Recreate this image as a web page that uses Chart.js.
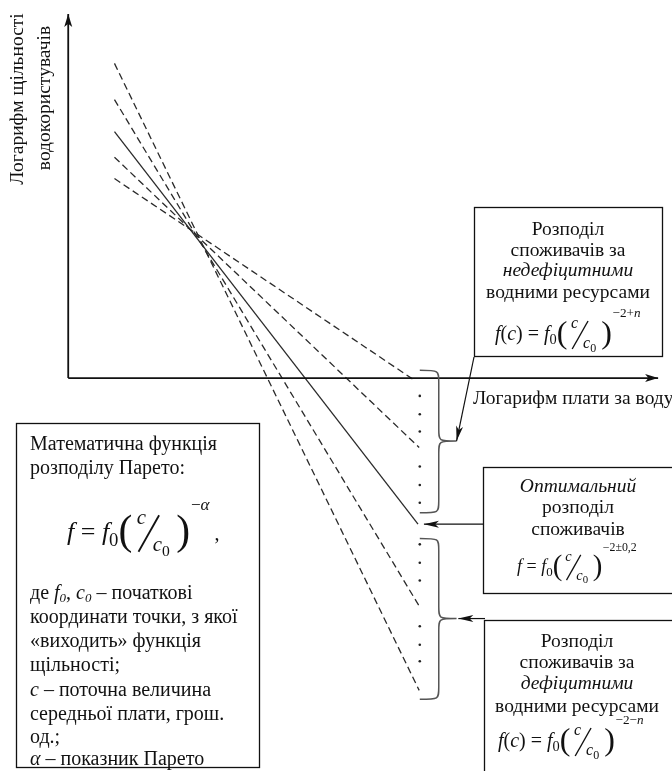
<!DOCTYPE html>
<html>
<head>
<meta charset="utf-8">
<script src="https://cdn.jsdelivr.net/npm/chart.js@4.4.1/dist/chart.umd.min.js"></script>
<style>
	body { margin: 0; background: #fff; }
	canvas { display: block; }
</style>
</head>
<body>
<canvas id="paretoChart" width="672" height="771"></canvas>
<script>
// log of price (x) and log of density (y), chart units, 0 = where the axes meet
const lineNames = ['недефіцитні 1', 'недефіцитні 2', 'оптимальний', 'дефіцитні 1', 'дефіцитні 2'];
const lineStartX = [0.78, 0.78, 0.78, 0.78, 0.78];
const lineStartY = [3.36, 3.72, 4.15, 4.69, 5.30];
const lineEndX = [5.86, 5.92, 5.90, 5.92, 5.92];
const lineEndY = [-0.05, -1.17, -2.46, -3.84, -5.26];
const optimalLine = 2;

const dotX = 5.93;
const dotY = [-0.30, -0.61, -0.90, -1.49, -1.80, -2.10, -2.80, -3.11, -3.41, -4.18, -4.49, -4.77];

const xAxisTitle = 'Логарифм плати за воду';
const yAxisTitle = ['Логарифм щільності', 'водокористувачів'];

// braces grouping the line ends: top, middle (tip) and bottom, chart units
const braces = [
	{ top: 0.13, mid: -1.06, bottom: -2.27 },
	{ top: -2.70, mid: -4.05, bottom: -5.41 }
];

const FONT = '"Liberation Serif", "Times New Roman", serif';
const INK = '#111';

function setFont(ctx, size, italic) {
	ctx.font = (italic ? 'italic ' : '') + size + 'px ' + FONT;
}

// runs: [{t, i}] drawn one after another
function runsWidth(ctx, runs, size) {
	let w = 0;
	runs.forEach(r => {
		setFont(ctx, r.s || size, r.i);
		w += ctx.measureText(r.t).width;
	});
	return w;
}
function drawRuns(ctx, runs, x, y, size, align) {
	if (align === 'center') x -= runsWidth(ctx, runs, size) / 2;
	ctx.textAlign = 'left';
	ctx.textBaseline = 'alphabetic';
	runs.forEach(r => {
		setFont(ctx, r.s || size, r.i);
		ctx.fillText(r.t, x, y + (r.dy || 0));
		x += ctx.measureText(r.t).width;
	});
	return x;
}

// f0 (c / c0) ^ expo, with lhs runs before it
function drawPareto(ctx, lhs, expo, x, base, s) {
	x = drawRuns(ctx, lhs, x, base, s);
	setFont(ctx, s * 0.72, false);
	ctx.fillText('0', x, base + s * 0.22);
	x += ctx.measureText('0').width;
	const P = s * 1.6, w = s * 1.65;
	setFont(ctx, P, false);
	ctx.fillText('(', x, base + s * 0.16);
	x += ctx.measureText('(').width + s * 0.04;
	setFont(ctx, s * 0.8, true);
	ctx.fillText('c', x + w * 0.08, base - s * 0.6);
	ctx.beginPath();
	ctx.moveTo(x + w * 0.12, base + s * 0.45);
	ctx.lineTo(x + w * 0.6, base - s * 0.95);
	ctx.lineWidth = Math.max(1.2, s * 0.07);
	ctx.stroke();
	ctx.fillText('c', x + w * 0.45, base + s * 0.42);
	setFont(ctx, s * 0.6, false);
	ctx.fillText('0', x + w * 0.45 + s * 0.36, base + s * 0.6);
	x += w;
	setFont(ctx, P, false);
	ctx.fillText(')', x, base + s * 0.16);
	x += ctx.measureText(')').width + s * 0.03;
	return drawRuns(ctx, expo, x, base - s * 1.15, s * 0.66);
}

function arrowHead(ctx, x1, y1, x2, y2, len, half) {
	const a = Math.atan2(y2 - y1, x2 - x1);
	ctx.beginPath();
	ctx.moveTo(x2, y2);
	ctx.lineTo(x2 - len * Math.cos(a) + half * Math.sin(a), y2 - len * Math.sin(a) - half * Math.cos(a));
	ctx.lineTo(x2 - len * 0.75 * Math.cos(a), y2 - len * 0.75 * Math.sin(a));
	ctx.lineTo(x2 - len * Math.cos(a) - half * Math.sin(a), y2 - len * Math.sin(a) + half * Math.cos(a));
	ctx.closePath();
	ctx.fill();
}
function arrow(ctx, x1, y1, x2, y2, width, len, half) {
	ctx.beginPath();
	ctx.moveTo(x1, y1);
	ctx.lineTo(x2, y2);
	ctx.lineWidth = width;
	ctx.stroke();
	arrowHead(ctx, x1, y1, x2, y2, len, half);
}

function box(ctx, x, y, w, h) {
	ctx.fillStyle = '#fff';
	ctx.fillRect(x, y, w, h);
	ctx.strokeStyle = INK;
	ctx.lineWidth = 1.3;
	ctx.strokeRect(x + 0.5, y + 0.5, w, h);
	ctx.fillStyle = INK;
}

const diagramPlugin = {
	id: 'diagram',
	afterDatasetsDraw(chart) {
		const ctx = chart.ctx;
		const px = v => chart.scales.x.getPixelForValue(v);
		const py = v => chart.scales.y.getPixelForValue(v);
		ctx.save();
		ctx.strokeStyle = INK;
		ctx.fillStyle = INK;

		// axes with arrows
		const ox = px(0), oy = py(0);
		arrow(ctx, ox, oy, ox, py(6.13), 1.8, 13, 4);
		arrow(ctx, ox, oy, px(9.95), oy, 1.8, 13, 4);

		// axis titles
		setFont(ctx, 19.5, false);
		ctx.textAlign = 'left';
		ctx.fillText(xAxisTitle, 473, 404);
		ctx.save();
		ctx.rotate(-Math.PI / 2);
		ctx.textAlign = 'center';
		ctx.textBaseline = 'middle';
		ctx.fillText(yAxisTitle[0], -99, 18);
		ctx.fillText(yAxisTitle[1], -98, 45);
		ctx.restore();

		// braces
		ctx.strokeStyle = '#555';
		ctx.lineWidth = 1.5;
		braces.forEach(b => {
			const x0 = px(5.93), xs = px(6.25), xt = px(6.55);
			const t = py(b.top), m = py(b.mid), bt = py(b.bottom);
			ctx.beginPath();
			ctx.moveTo(x0, t);
			ctx.bezierCurveTo(xs, t, xs, t, xs, t + 12);
			ctx.lineTo(xs, m - 12);
			ctx.bezierCurveTo(xs, m, xs, m, xt, m);
			ctx.bezierCurveTo(xs, m, xs, m, xs, m + 12);
			ctx.lineTo(xs, bt - 12);
			ctx.bezierCurveTo(xs, bt, xs, bt, x0, bt);
			ctx.stroke();
		});

		// pointer arrows from the boxes
		ctx.strokeStyle = INK;
		ctx.fillStyle = INK;
		arrow(ctx, 474, 357, px(6.55), py(braces[0].mid), 1.2, 15, 3.5);
		arrow(ctx, 483, py(lineEndY[optimalLine]), px(6.0), py(lineEndY[optimalLine]), 1.2, 15, 3.5);
		arrow(ctx, 485, py(braces[1].mid), px(6.58), py(braces[1].mid), 1.2, 15, 3.5);

		const rs = 19.5;
		// top right box
		box(ctx, 474, 207, 188, 149);
		let cx = 568;
		drawRuns(ctx, [{ t: 'Розподіл' }], cx, 235, rs, 'center');
		drawRuns(ctx, [{ t: 'споживачів за' }], cx, 256, rs, 'center');
		drawRuns(ctx, [{ t: 'недефіцитними', i: true }], cx, 276, rs, 'center');
		drawRuns(ctx, [{ t: 'водними ресурсами' }], cx, 298, rs, 'center');
		drawPareto(ctx, [{ t: 'f', i: true }, { t: '(' }, { t: 'c', i: true }, { t: ') = ' }, { t: 'f', i: true }],
			[{ t: '−2+' }, { t: 'n', i: true }], 495, 340, 20);

		// middle right box
		box(ctx, 483, 467, 192, 126);
		cx = 578;
		drawRuns(ctx, [{ t: 'Оптимальний', i: true }], cx, 492, rs, 'center');
		drawRuns(ctx, [{ t: 'розподіл' }], cx, 513, rs, 'center');
		drawRuns(ctx, [{ t: 'споживачів' }], cx, 535, rs, 'center');
		drawPareto(ctx, [{ t: 'f', i: true }, { t: ' = ' }, { t: 'f', i: true }],
			[{ t: '−2±0,2' }], 517, 572, 18);

		// bottom right box
		box(ctx, 484, 620, 192, 160);
		cx = 577;
		drawRuns(ctx, [{ t: 'Розподіл' }], cx, 647, rs, 'center');
		drawRuns(ctx, [{ t: 'споживачів за' }], cx, 668, rs, 'center');
		drawRuns(ctx, [{ t: 'дефіцитними', i: true }], cx, 689, rs, 'center');
		drawRuns(ctx, [{ t: 'водними ресурсами' }], cx, 712, rs, 'center');
		drawPareto(ctx, [{ t: 'f', i: true }, { t: '(' }, { t: 'c', i: true }, { t: ') = ' }, { t: 'f', i: true }],
			[{ t: '−2−' }, { t: 'n', i: true }], 498, 747, 20);

		// left box with the Pareto function
		box(ctx, 16, 423, 243, 344);
		const lx = 30, fs = 20;
		drawRuns(ctx, [{ t: 'Математична функція' }], lx, 450, fs);
		drawRuns(ctx, [{ t: 'розподілу Парето:' }], lx, 474, fs);
		const fx = drawPareto(ctx, [{ t: 'f', i: true }, { t: ' = ' }, { t: 'f', i: true }],
			[{ t: '−' }, { t: 'α', i: true }], 67, 540, 26);
		drawRuns(ctx, [{ t: ',' }], fx + 5, 540, fs);
		const sub = { t: '0', i: true, s: 13, dy: 3 };
		drawRuns(ctx, [{ t: 'де ' }, { t: 'f', i: true }, sub, { t: ', ' }, { t: 'c', i: true }, sub, { t: ' – початкові' }], lx, 599, fs);
		drawRuns(ctx, [{ t: 'координати точки, з якої' }], lx, 623, fs);
		drawRuns(ctx, [{ t: '«виходить» функція' }], lx, 647, fs);
		drawRuns(ctx, [{ t: 'щільності;' }], lx, 671, fs);
		drawRuns(ctx, [{ t: 'c', i: true }, { t: ' – поточна величина' }], lx, 696, fs);
		drawRuns(ctx, [{ t: 'середньої плати, грош.' }], lx, 720, fs);
		drawRuns(ctx, [{ t: 'од.;' }], lx, 743, fs);
		drawRuns(ctx, [{ t: 'α', i: true }, { t: ' – показник Парето' }], lx, 765, fs);

		ctx.restore();
	}
};

const datasets = lineNames.map((name, i) => ({
	label: name,
	data: [{ x: lineStartX[i], y: lineStartY[i] }, { x: lineEndX[i], y: lineEndY[i] }],
	showLine: true,
	borderColor: '#2a2a2a',
	borderWidth: 1.3,
	borderDash: i === optimalLine ? [] : [7, 4],
	pointRadius: 0
}));
datasets.push({
	label: 'dots',
	data: dotY.map(y => ({ x: dotX, y: y })),
	showLine: false,
	pointRadius: 1.3,
	pointBorderWidth: 0,
	backgroundColor: '#222'
});

new Chart(document.getElementById('paretoChart'), {
	type: 'scatter',
	data: { datasets: datasets },
	options: {
		responsive: false,
		animation: false,
		layout: { padding: 0 },
		plugins: {
			legend: { display: false },
			tooltip: { enabled: false }
		},
		scales: {
			x: { type: 'linear', min: -65 / 60, max: 607 / 60, display: false },
			y: { type: 'linear', min: -393 / 60, max: 378 / 60, display: false }
		}
	},
	plugins: [diagramPlugin]
});
</script>
</body>
</html>
